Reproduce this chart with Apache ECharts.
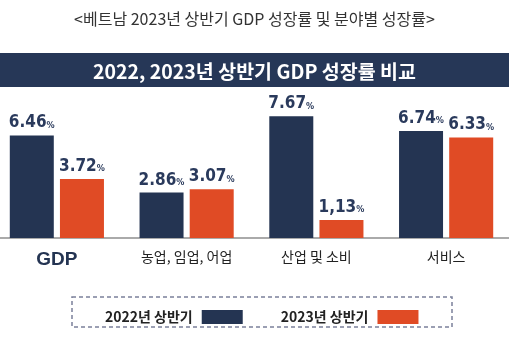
<!DOCTYPE html>
<html>
<head>
<meta charset="utf-8">
<script src="https://cdn.jsdelivr.net/npm/echarts@6/dist/echarts.min.js"></script>
<style>html,body{margin:0;padding:0;background:#fff}#c{width:509px;height:337px}</style>
</head>
<body>
<div id="c"></div>
<script>
const categories = ['GDP', '농업, 임업, 어업', '산업 및 소비', '서비스'];
const values2022 = [6.46, 2.86, 7.67, 6.74];
const values2023 = [3.72, 3.07, 1.13, 6.33];
const labels2022 = ['6.46', '2.86', '7.67', '6.74'];
const labels2023 = ['3.72', '3.07', '1,13', '6.33'];
const seriesNames = ['2022년 상반기', '2023년 상반기'];
const pageTitle = '<베트남 2023년 상반기 GDP 성장률 및 분야별 성장률>';
const bannerTitle = '2022, 2023년 상반기 GDP 성장률 비교';

const NAVY = '#243452';
const ORANGE = '#E04B25';
const KR = '"Noto Sans CJK KR", "Noto Sans", sans-serif';
const NUM = '"DejaVu Sans Condensed", "Liberation Sans Narrow", sans-serif';

const valueLabel = (texts) => ({
  show: true,
  position: 'top',
  distance: 4,
  formatter: (p) => '{n|' + texts[p.dataIndex] + '}{p|%}',
  rich: {
    n: { fontFamily: NUM, fontWeight: 'bold', fontSize: 17, color: '#2a3a5c' },
    p: { fontFamily: NUM, fontWeight: 'bold', fontSize: 9, color: '#2a3a5c', padding: [5, 0, 0, 0] }
  }
});

const chart = echarts.init(document.getElementById('c'));
chart.setOption({
  animation: false,
  backgroundColor: '#fff',
  title: [
    { text: pageTitle, left: 'center', top: 6,
      textStyle: { fontFamily: KR, fontSize: 16, fontWeight: 'normal', color: '#333' } },
    { text: bannerTitle, left: 'center', top: 57,
      textStyle: { fontFamily: KR, fontSize: 19.5, fontWeight: 'bold', color: '#fff' } }
  ],
  graphic: [
    { type: 'rect', shape: { x: 0, y: 53, width: 509, height: 34 }, style: { fill: '#263757' }, z: 0 },
    { type: 'rect', shape: { x: 72, y: 297, width: 380, height: 30 },
      style: { fill: 'none', stroke: '#7b809a', lineWidth: 1.5, lineDash: [4, 3] }, z: 0 }
  ],
  legend: {
    data: seriesNames,
    left: 100,
    top: 305,
    align: 'right',
    itemWidth: 41,
    itemHeight: 14,
    itemGap: 38,
    icon: 'rect',
    textStyle: { fontFamily: KR, fontSize: 14, fontWeight: 'bold', color: '#222', padding: [0, 4, 0, 0] }
  },
  grid: { left: -8, right: -2, top: 111, bottom: 99, containLabel: false, outerBoundsMode: 'none' },
  xAxis: {
    type: 'category',
    data: categories,
    axisLine: { show: true, lineStyle: { color: '#aaaaaa', width: 2 } },
    axisTick: { show: false },
    axisLabel: {
      margin: 12,
      fontFamily: KR,
      fontSize: 14,
      color: '#222',
      formatter: (v) => v === 'GDP' ? '{g|GDP}' : v,
      rich: { g: { fontFamily: '"Liberation Sans", Arial, sans-serif', fontWeight: 'bold', fontSize: 19, color: NAVY } }
    }
  },
  yAxis: { type: 'value', min: 0, max: 8, show: false, splitLine: { show: false } },
  series: [
    { name: seriesNames[0], type: 'bar', data: values2022, barWidth: 44, barGap: '14%',
      itemStyle: { color: NAVY }, label: valueLabel(labels2022) },
    { name: seriesNames[1], type: 'bar', data: values2023, barWidth: 44,
      itemStyle: { color: ORANGE }, label: valueLabel(labels2023) }
  ]
});
</script>
</body>
</html>
